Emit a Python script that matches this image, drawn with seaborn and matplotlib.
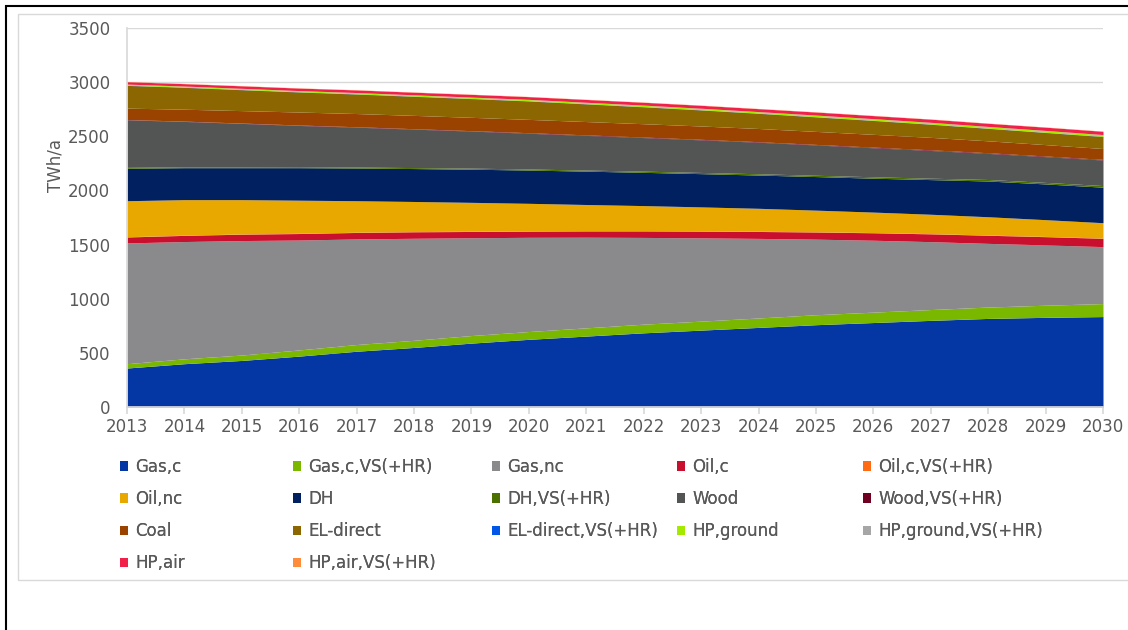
import matplotlib
matplotlib.use("Agg")
import matplotlib.pyplot as plt
from matplotlib.patches import Rectangle
import seaborn as sns
import pandas as pd

# years on the x axis
years = list(range(2013, 2031))

# stacked series, bottom to top (TWh/a)
gas_c = [360, 400, 430, 470, 515, 550, 590, 625, 655, 685, 710, 735, 760, 780, 800, 818, 828, 835]
gas_c_vs = [40, 45, 50, 57, 62, 66, 70, 72, 76, 80, 83, 87, 92, 96, 100, 105, 112, 120]
gas_nc = [1115, 1083, 1057, 1015, 975, 942, 903, 870, 837, 801, 769, 735, 698, 664, 627, 588, 557, 526]
oil_c = [55, 57, 59, 60, 60, 60, 58, 57, 58, 60, 62, 64, 66, 69, 72, 75, 76, 77]
oil_c_vs = [2, 2, 2, 2, 2, 2, 2, 2, 2, 2, 2, 2, 2, 2, 2, 2, 2, 2]
oil_nc = [333, 328, 317, 306, 291, 278, 267, 255, 242, 232, 222, 212, 200, 189, 179, 169, 155, 142]
dh = [300, 295, 295, 300, 302, 304, 306, 307, 308, 307, 307, 307, 310, 313, 320, 330, 330, 328]
dh_vs = [8, 8, 8, 9, 9, 9, 10, 10, 10, 11, 11, 12, 12, 13, 13, 14, 14, 15]
wood = [439, 419, 401, 381, 368, 355, 342, 330, 320, 310, 301, 291, 280, 268, 256, 241, 238, 236]
wood_vs = [3, 3, 3, 4, 4, 4, 4, 5, 5, 5, 5, 5, 5, 6, 6, 6, 6, 6]
coal = [105, 110, 115, 120, 122, 123, 123, 123, 123, 123, 123, 122, 120, 118, 115, 110, 105, 100]
el_direct = [210, 202, 193, 185, 180, 176, 173, 170, 163, 156, 148, 140, 134, 128, 121, 115, 112, 110]
el_direct_vs = [2, 2, 2, 2, 2, 2, 2, 2, 2, 2, 2, 2, 2, 2, 2, 2, 2, 2]
hp_ground = [8, 8, 9, 9, 10, 10, 10, 11, 11, 12, 12, 12, 13, 13, 14, 14, 15, 15]
hp_ground_vs = [2, 2, 2, 2, 2, 2, 2, 2, 2, 2, 2, 2, 2, 2, 2, 2, 2, 2]
hp_air = [22, 22, 23, 23, 24, 24, 25, 25, 26, 26, 27, 27, 28, 28, 29, 29, 30, 30]
hp_air_vs = [2, 2, 2, 2, 2, 2, 2, 2, 2, 2, 2, 2, 2, 2, 2, 2, 2, 2]

series_names = ["Gas,c", "Gas,c,VS(+HR)", "Gas,nc", "Oil,c", "Oil,c,VS(+HR)",
                "Oil,nc", "DH", "DH,VS(+HR)", "Wood", "Wood,VS(+HR)",
                "Coal", "EL-direct", "EL-direct,VS(+HR)", "HP,ground", "HP,ground,VS(+HR)",
                "HP,air", "HP,air,VS(+HR)"]
series_colors = ["#0437a4", "#7ab800", "#8a8a8c", "#c8102e", "#ff6a13",
                 "#e8a800", "#002060", "#4a7000", "#535555", "#700020",
                 "#9a4200", "#8c6600", "#0057e7", "#a4ea00", "#a6a6a6",
                 "#f0204a", "#ff8c3a"]

data = pd.DataFrame({
    "Gas,c": gas_c, "Gas,c,VS(+HR)": gas_c_vs, "Gas,nc": gas_nc,
    "Oil,c": oil_c, "Oil,c,VS(+HR)": oil_c_vs, "Oil,nc": oil_nc,
    "DH": dh, "DH,VS(+HR)": dh_vs, "Wood": wood, "Wood,VS(+HR)": wood_vs,
    "Coal": coal, "EL-direct": el_direct, "EL-direct,VS(+HR)": el_direct_vs,
    "HP,ground": hp_ground, "HP,ground,VS(+HR)": hp_ground_vs,
    "HP,air": hp_air, "HP,air,VS(+HR)": hp_air_vs,
}, index=years)

sns.set_theme(style="white")
plt.rcParams['font.family'] = ['DejaVu Sans']
text_color = "#595959"
font_size = 12

f = plt.figure(figsize=(11.28, 6.3), dpi=100)
ax = f.add_axes([127 / 1128, 1 - 407 / 630, (1103 - 127) / 1128, (407 - 28) / 630])

# frames around the figure
f.patches.append(Rectangle((6 / 1128, -0.01), 1.1, 1 - 6 / 630 + 0.01, transform=f.transFigure,
                           fill=False, ec="black", lw=1.5, zorder=0))
f.patches.append(Rectangle((18 / 1128, 1 - 580 / 630), 1.1, 580 / 630 - 14 / 630, transform=f.transFigure,
                           fill=False, ec="#d9d9d9", lw=1, zorder=0))

ax.stackplot(data.index, [data[c] for c in series_names], colors=series_colors,
             linewidth=0, zorder=2)

ax.set_xlim(2013, 2030)
ax.set_ylim(0, 3500)
ax.set_yticks(range(0, 3501, 500))
ax.set_xticks(years)
ax.yaxis.grid(True, color="#d9d9d9", lw=1, zorder=0)
ax.set_axisbelow(True)
for side in ["top", "right"]:
    ax.spines[side].set_visible(False)
ax.spines["left"].set_color("#d9d9d9")
ax.spines["bottom"].set_color("#d9d9d9")
ax.tick_params(axis="x", bottom=True, length=5, color="#d9d9d9", labelsize=font_size,
               labelcolor=text_color, pad=3)
ax.tick_params(axis="y", left=False, labelsize=font_size, labelcolor=text_color, pad=6)
f.text(55 / 1128, 1 - 165 / 630, "TWh/a", rotation=90, ha="center", va="center",
       fontsize=font_size, color=text_color)

# legend, one block per column so the columns sit where they do in the picture
col_x = [120, 293, 492, 677, 863]
for col in range(5):
    idx = list(range(col, len(series_names), 5))
    leg = f.legend([Rectangle((0, 0), 1, 1, fc=series_colors[i], ec="none") for i in idx],
                   [series_names[i] for i in idx],
                   loc="upper left", bbox_to_anchor=(col_x[col] / 1128, 1 - 458 / 630),
                   frameon=False, fontsize=font_size, labelcolor=text_color,
                   handlelength=0.5, handleheight=0.5, handletextpad=0.4,
                   labelspacing=0.85, borderaxespad=0, borderpad=0)
    f.add_artist(leg)

f.savefig("out.png", dpi=100)
